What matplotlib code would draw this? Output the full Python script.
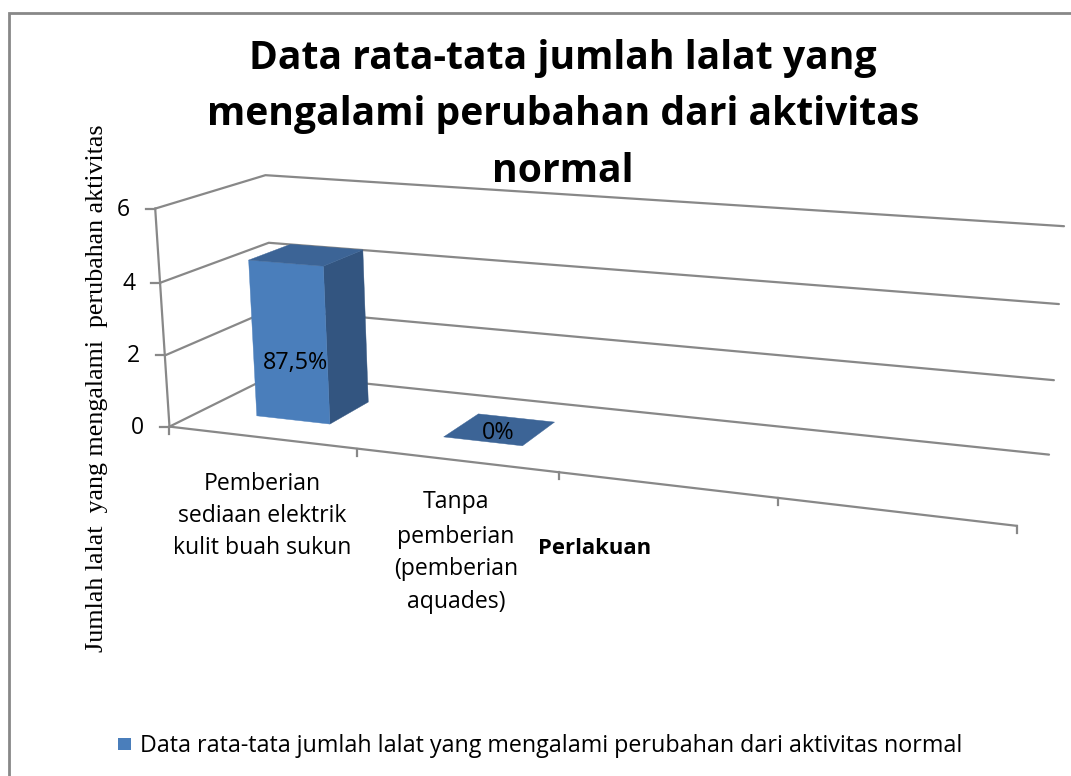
#!/usr/bin/env python3
# -*- coding: utf-8 -*-
import numpy as np
import matplotlib
matplotlib.use('Agg')
import matplotlib.pyplot as plt
from matplotlib.patches import Polygon, Rectangle

TITLE = ['Data rata-tata jumlah lalat yang', 'mengalami perubahan dari aktivitas', 'normal']
CATEGORIES = [['Pemberian', 'sediaan elektrik', 'kulit buah sukun'],
              ['Tanpa', 'pemberian', '(pemberian', 'aquades)']]
VALUES = [4.4, 0.0]
VALUE_LABELS = ['87,5%', '0%']
Y_TICKS = [0, 2, 4, 6]
N_SLOTS = 4
YLABEL = 'Jumlah lalat  yang mengalami  perubahan aktivitas'
XLABEL = 'Perlakuan'
LEGEND = 'Data rata-tata jumlah lalat yang mengalami perubahan dari aktivitas normal'

W, H = 1071, 776
GREY = '#888888'
FRONT, SIDE, TOP = '#4A7EBB', '#335580', '#3C6496'
SANS = 'Open Sans'
LW = 1.6

# kamera: titik (slot, nilai, kedalaman) -> piksel, dikalibrasi dari sudut kotak
CAL = [((0, 0, 0), (170, 427)), ((0, 2, 0), (165, 354)), ((0, 4, 0), (160, 282)),
       ((0, 6, 0), (155, 209)), ((1, 0, 0), (357, 450)), ((2, 0, 0), (558, 473)),
       ((3, 0, 0), (778, 498)), ((4, 0, 0), (1017, 525)), ((0, 6, 1), (266, 175)),
       ((0, 4, 1), (268, 243)), ((4, 6, 1), (1064, 227)), ((4, 4, 1), (1059, 304)),
       ((4, 2, 1), (1054, 380)), ((4, 0, 1), (1049, 454))]
rows = []
for (x, v, d), (px, py) in CAL:
    rows.append([x, v, d, 1, 0, 0, 0, 0, -px * x, -px * v, -px * d, -px])
    rows.append([0, 0, 0, 0, x, v, d, 1, -py * x, -py * v, -py * d, -py])
CAM = np.linalg.svd(np.array(rows, float))[2][-1].reshape(3, 4)


def proj(x, v, d):
    p = CAM @ np.array([x, v, d, 1.0])
    return p[0] / p[2], p[1] / p[2]


fig = plt.figure(figsize=(W / 100, H / 100), dpi=100)
ax = fig.add_axes([0, 0, 1, 1])
ax.set_xlim(0, W)
ax.set_ylim(H, 0)
ax.axis('off')

# bingkai grafik
ax.add_patch(Rectangle((9, 13), W, H, fc='white', ec=GREY, lw=2.0, zorder=0))

# garis kisi dan sumbu
for t in Y_TICKS:
    pts = [proj(0, t, 0), proj(0, t, 1), proj(N_SLOTS, t, 1)]
    ax.plot(*zip(*pts), color=GREY, lw=LW, zorder=1, solid_capstyle='round')
    fx, fy = pts[0]
    ax.plot([fx - 9, fx], [fy, fy], color=GREY, lw=LW, zorder=1)
    ax.text(fx - 25, fy + 1, str(t), ha='right', va='center', fontsize=16.5,
            family=SANS, color='black')
ax.plot(*zip(proj(0, 0, 0), proj(0, 6, 0)), color=GREY, lw=LW, zorder=1)
ax.plot(*zip(proj(0, 0, 0), proj(N_SLOTS, 0, 0)), color=GREY, lw=LW, zorder=1)
for i in range(N_SLOTS + 1):
    tx, ty = proj(i, 0, 0)
    ax.plot([tx, tx], [ty, ty + 7], color=GREY, lw=LW, zorder=1)

# batang
X0, X1, D0, D1 = 0.30, 0.70, 0.30, 0.70
for i, (val, lab) in enumerate(zip(VALUES, VALUE_LABELS)):
    a, b = i + X0, i + X1
    if val > 0:
        ax.add_patch(Polygon([proj(b, 0, D0), proj(b, 0, D1), proj(b, val, D1), proj(b, val, D0)],
                             fc=SIDE, ec=SIDE, lw=0.3, zorder=2))
        ax.add_patch(Polygon([proj(a, 0, D0), proj(b, 0, D0), proj(b, val, D0), proj(a, val, D0)],
                             fc=FRONT, ec=FRONT, lw=0.3, zorder=3))
    ax.add_patch(Polygon([proj(a, val, D0), proj(b, val, D0), proj(b, val, D1), proj(a, val, D1)],
                         fc=TOP, ec=TOP, lw=0.3, zorder=3))
    lx, ly = proj(i + 0.5, val * 0.5, 0.5)
    ax.text(lx - 14 if val > 0 else lx - 2, ly + 30 if val > 0 else ly + 4, lab, ha='center',
            va='center', fontsize=16.8, family=SANS, color='black', zorder=5)

# judul
for line, y in zip(TITLE, [59, 114, 171]):
    ax.text(563, y, line, ha='center', va='center', fontsize=28.2, fontweight='bold',
            family=SANS, color='black')

# label kategori
for lines, cx, ys in zip(CATEGORIES, [262, 456], [[484, 516, 548], [502, 537, 569, 602]]):
    for line, y in zip(lines, ys):
        ax.text(cx, y, line, ha='center', va='center', fontsize=16.6, family=SANS, color='black')

ax.text(595, 549, XLABEL, ha='center', va='center', fontsize=15.8, fontweight='bold',
        family=SANS, color='black')
ax.text(97, 388, YLABEL, rotation=90, ha='center', va='center', fontsize=18.7,
        family='Liberation Serif', color='black')

# legenda
ax.add_patch(Rectangle((118, 738), 13, 12, fc=FRONT, ec='none'))
ax.text(140, 746, LEGEND, ha='left', va='center', fontsize=16.75, family=SANS, color='black')

fig.savefig('out.png', dpi=100)
